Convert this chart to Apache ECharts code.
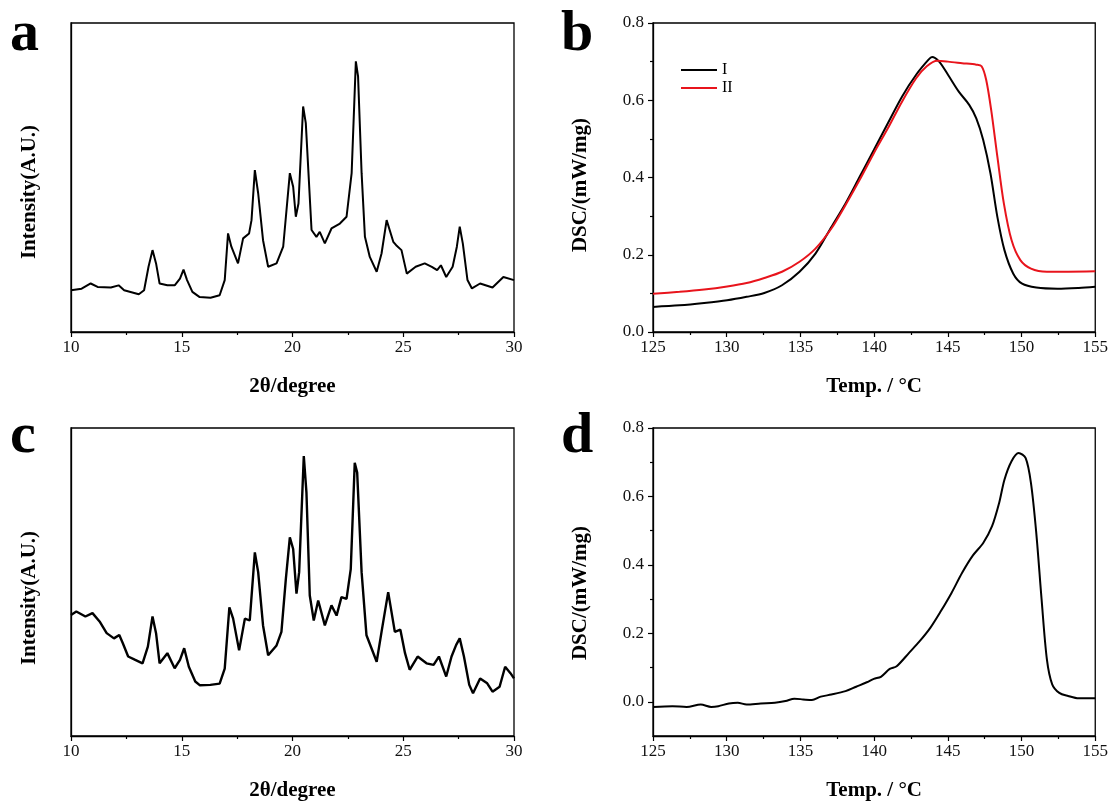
<!DOCTYPE html>
<html>
<head>
<meta charset="utf-8">
<script src="https://cdn.jsdelivr.net/npm/echarts@6/dist/echarts.min.js"></script>
<style>html,body{margin:0;padding:0;background:#fff;}#chart{width:1111px;height:802px;}</style>
</head>
<body>
<div id="chart"></div>
<script>
// ---- Panel a: XRD pattern (form I) ----
const xrdA_theta = [10,10.48,10.89,11.2,11.8,12.15,12.4,13.06,13.3,13.5,13.68,13.84,14.0,14.35,14.68,14.92,15.08,15.24,15.48,15.81,16.3,16.71,16.94,17.09,17.24,17.54,17.77,18.04,18.15,18.3,18.45,18.67,18.9,19.28,19.58,19.88,20.03,20.15,20.27,20.48,20.6,20.86,21.08,21.23,21.46,21.76,22.14,22.44,22.67,22.86,22.96,23.12,23.27,23.49,23.8,24.02,24.25,24.55,24.68,24.92,25.16,25.56,25.97,26.29,26.53,26.7,26.94,27.23,27.42,27.55,27.69,27.9,28.1,28.47,29.03,29.52,30];
const xrdA_int   = [135,140,157,146,144,151,135,122,135,211,265,222,157,151,151,173,202,168,130,113,111,119,168,319,276,222,303,319,362,524,449,297,211,222,276,514,470,373,416,730,676,330,308,324,287,335,351,373,514,876,827,514,308,243,195,254,362,292,281,265,189,211,222,211,200,216,178,211,276,341,286,168,141,157,144,178,168];

// ---- Panel c: XRD pattern (form II) ----
const xrdC_theta = [10,10.24,10.65,10.97,11.29,11.61,11.94,12.18,12.34,12.58,12.9,13.23,13.47,13.68,13.84,14.0,14.35,14.68,14.92,15.11,15.32,15.61,15.81,16.29,16.71,16.94,17.15,17.32,17.59,17.85,18.07,18.3,18.45,18.67,18.9,19.28,19.5,19.7,19.88,20.03,20.18,20.3,20.51,20.63,20.78,20.96,21.16,21.46,21.76,21.99,22.21,22.44,22.63,22.81,22.92,23.12,23.34,23.57,23.8,24.02,24.32,24.62,24.87,25.08,25.29,25.65,26.05,26.37,26.61,26.94,27.18,27.39,27.55,27.74,27.98,28.15,28.47,28.79,29.03,29.35,29.6,29.84,30];
const xrdC_int   = [393,404,388,399,372,334,317,328,301,258,247,236,290,388,334,236,269,220,247,285,225,177,165,166,170,219,418,381,278,381,375,596,532,359,262,294,338,510,645,607,462,532,909,790,456,375,440,359,424,391,451,445,542,887,855,532,327,284,241,338,467,338,345,269,215,258,236,231,258,193,258,296,317,258,166,139,187,171,144,160,225,204,187];

// ---- Panel b: DSC curves I and II ----
const dscB_tempI = [125,126.8,128.47,130.03,131.35,132.55,133.75,134.94,136.02,137.1,138.06,139.02,139.98,140.94,141.9,142.85,143.69,143.93,144.41,145.01,145.73,146.45,146.93,147.4,147.89,148.36,148.84,149.44,150.04,151.0,152.44,153.88,155];
const dscB_I     = [0.065,0.069,0.075,0.082,0.091,0.101,0.121,0.156,0.203,0.272,0.333,0.402,0.471,0.541,0.61,0.666,0.705,0.712,0.70,0.666,0.623,0.588,0.553,0.497,0.411,0.298,0.212,0.151,0.125,0.115,0.112,0.114,0.117];
const dscB_tempII = [125,126.8,128.47,130.03,131.35,132.55,133.75,134.94,136.02,137.1,138.06,139.02,139.98,140.94,141.9,142.85,143.57,144.29,145.01,145.97,146.93,147.29,147.6,147.94,148.36,148.8,149.32,149.92,150.64,151.72,153.16,155];
const dscB_II     = [0.099,0.104,0.11,0.118,0.127,0.14,0.156,0.182,0.216,0.268,0.329,0.394,0.463,0.528,0.597,0.657,0.688,0.702,0.70,0.696,0.692,0.688,0.653,0.575,0.454,0.333,0.238,0.186,0.164,0.156,0.156,0.157];

// ---- Panel d: DSC curve ----
const dscD_temp = [125,126.32,127.28,128.24,128.95,129.43,130.15,130.75,131.35,132.31,133.27,133.99,134.59,135.18,135.78,136.38,137.1,138.06,138.78,139.5,139.98,140.46,141.06,141.53,142.37,143.09,143.81,144.53,145.25,145.97,146.69,147.4,148.0,148.48,148.84,149.32,149.8,150.28,150.64,151.0,151.36,151.72,152.08,152.56,153.16,153.88,155];
const dscD_val  = [-0.015,-0.013,-0.015,-0.008,-0.015,-0.013,-0.005,-0.003,-0.008,-0.005,-0.003,0.002,0.009,0.007,0.005,0.015,0.021,0.031,0.044,0.057,0.067,0.073,0.096,0.104,0.143,0.177,0.216,0.265,0.318,0.377,0.427,0.464,0.513,0.581,0.649,0.703,0.727,0.712,0.639,0.493,0.299,0.124,0.051,0.026,0.017,0.010,0.010];

const xrdTicks = [10,15,20,25,30];
const dscTempTicks = [125,130,135,140,145,150,155];
const dscValTicks = [0.0,0.2,0.4,0.6,0.8];
const dscMinorTicks = [0.1,0.3,0.5,0.7];
const legendNames = ['I','II'];
const panelLetters = ['a','b','c','d'];

const zip = (a,b) => a.map((v,i) => [v,b[i]]);
const SERIF = "'Liberation Serif','Times New Roman',serif";
const grids = [
  {left:71, top:23, width:443, height:309},
  {left:653, top:23, width:443, height:309},
  {left:71, top:428, width:443, height:309},
  {left:653, top:428, width:443, height:309}
].map(g => Object.assign(g, {show:true, borderColor:'#000', borderWidth:1.3, backgroundColor:'transparent'}));

function xAxisFor(idx, min, max, interval, name) {
  return {
    type:'value', gridIndex:idx, min:min, max:max, interval:interval,
    name:name, nameLocation:'middle', nameGap:44,
    nameTextStyle:{fontFamily:SERIF, fontSize:21, fontWeight:'bold', color:'#000'},
    axisLine:{show:true, onZero:false, lineStyle:{color:'#000', width:1.3}},
    axisTick:{show:true, inside:false, length:5, lineStyle:{color:'#000', width:1.2}},
    minorTick:{show:true, splitNumber:2, length:3, lineStyle:{color:'#000', width:1.2}},
    axisLabel:{show:true, margin:7, fontFamily:SERIF, fontSize:17, color:'#111'},
    splitLine:{show:false}, minorSplitLine:{show:false}
  };
}
function xrdY(idx, pad) {
  return {
    type:'value', gridIndex:idx, min:0, max:1000,
    name:'Intensity(A.U.)', nameLocation:'middle', nameGap:31,
    nameTextStyle:{fontFamily:SERIF, fontSize:21, fontWeight:'bold', color:'#000', padding:[0,pad,0,0]},
    axisLine:{show:true, onZero:false, lineStyle:{color:'#000', width:1.3}},
    axisTick:{show:false}, axisLabel:{show:false}, splitLine:{show:false}
  };
}
function dscY(idx, min, pad, extra) {
  return Object.assign({
    type:'value', gridIndex:idx, min:min, max:0.8, position:'left',
    name:'DSC/(mW/mg)', nameLocation:'middle', nameGap:62,
    nameTextStyle:{fontFamily:SERIF, fontSize:21, fontWeight:'bold', color:'#000', padding:[0,pad,0,0]},
    axisLine:{show:true, onZero:false, lineStyle:{color:'#000', width:1.3}},
    axisTick:{show:true, inside:false, length:5, lineStyle:{color:'#000', width:1.2}},
    axisLabel:{show:true, margin:9, fontFamily:SERIF, fontSize:17, color:'#111', formatter:v => v.toFixed(1)},
    splitLine:{show:false}, minorSplitLine:{show:false}
  }, extra);
}

const option = {
  backgroundColor:'#fff',
  animation:false,
  grid: grids,
  xAxis: [
    xAxisFor(0, xrdTicks[0], xrdTicks[xrdTicks.length-1], 5, '2θ/degree'),
    xAxisFor(1, dscTempTicks[0], dscTempTicks[dscTempTicks.length-1], 5, 'Temp. / °C'),
    xAxisFor(2, xrdTicks[0], xrdTicks[xrdTicks.length-1], 5, '2θ/degree'),
    xAxisFor(3, dscTempTicks[0], dscTempTicks[dscTempTicks.length-1], 5, 'Temp. / °C')
  ],
  yAxis: [
    xrdY(0, 29),
    dscY(1, 0, 15, {interval:0.2, minorTick:{show:true, splitNumber:2, length:3, lineStyle:{color:'#000', width:1.2}}}),
    xrdY(2, 32),
    dscY(3, -0.1, 22, {axisLabel:{show:true, margin:9, fontFamily:SERIF, fontSize:17, color:'#111', customValues:dscValTicks, formatter:v => v.toFixed(1)},
                       axisTick:{show:true, inside:false, length:5, customValues:dscValTicks, lineStyle:{color:'#000', width:1.2}}}),
    {type:'value', gridIndex:3, min:-0.1, max:0.8, position:'left', axisLine:{show:false, onZero:false},
     axisTick:{show:true, inside:false, length:3, customValues:dscMinorTicks, lineStyle:{color:'#000', width:1.2}},
     axisLabel:{show:false}, splitLine:{show:false}}
  ],
  legend: {
    data: legendNames, orient:'vertical', left:681, top:61, padding:0,
    icon:'rect', itemWidth:36, itemHeight:2, itemGap:0,
    textStyle:{fontFamily:SERIF, fontSize:16, color:'#000', lineHeight:18}
  },
  graphic: panelLetters.map((t,i) => ({
    type:'text', left: (i % 2 === 0) ? 10 : 561, top: (i < 2) ? 6 : 408,
    style:{text:t, font:"bold 58px 'Liberation Serif', serif", fill:'#000'}
  })),
  series: [
    {type:'line', xAxisIndex:0, yAxisIndex:0, data:zip(xrdA_theta, xrdA_int), symbol:'none', lineStyle:{color:'#000', width:2}},
    {name:'I', type:'line', xAxisIndex:1, yAxisIndex:1, data:zip(dscB_tempI, dscB_I), smooth:0.3, symbol:'none', itemStyle:{color:'#000'}, lineStyle:{color:'#000', width:2}},
    {name:'II', type:'line', xAxisIndex:1, yAxisIndex:1, data:zip(dscB_tempII, dscB_II), smooth:0.3, symbol:'none', itemStyle:{color:'#e8141c'}, lineStyle:{color:'#e8141c', width:2}},
    {type:'line', xAxisIndex:2, yAxisIndex:2, data:zip(xrdC_theta, xrdC_int), symbol:'none', lineStyle:{color:'#000', width:2.4}},
    {type:'line', xAxisIndex:3, yAxisIndex:3, data:zip(dscD_temp, dscD_val), smooth:0.3, symbol:'none', lineStyle:{color:'#000', width:2}}
  ]
};
const chart = echarts.init(document.getElementById('chart'), null, {renderer:'canvas'});
chart.setOption(option);
</script>
</body>
</html>
